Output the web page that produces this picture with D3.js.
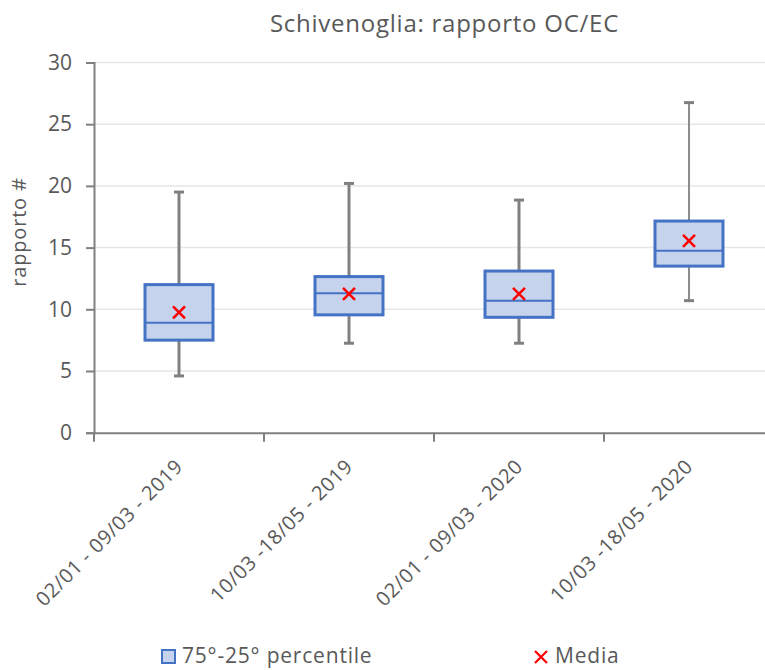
<!DOCTYPE html>
<html><head><meta charset="utf-8">
<script src="https://cdn.jsdelivr.net/npm/d3@7"></script>
<style>body{margin:0;background:#fff}svg{display:block}text{font-family:"Open Sans","Noto Sans",sans-serif;fill:#595959}</style>
</head><body><svg id="c" width="765" height="670"></svg>
<script>
const categories = ["02/01 - 09/03 - 2019","10/03 -18/05 - 2019","02/01 - 09/03 - 2020","10/03 -18/05 - 2020"];
const whiskerLow = [4.6, 7.25, 7.25, 10.7];
const q1 = [7.5, 9.55, 9.35, 13.5];
const median = [8.9, 11.3, 10.7, 14.75];
const q3 = [12.0, 12.65, 13.1, 17.15];
const whiskerHigh = [19.5, 20.2, 18.85, 26.75];
const means = [9.75, 11.25, 11.25, 15.55];
const yTicks = [0,5,10,15,20,25,30];

(function(){
const svg = d3.select("#c");
const left=94, right=774, topY=62.5, bottom=432.7;
const x = d3.scaleBand().domain(categories).range([left,right]).paddingInner(0).paddingOuter(0);
const y = d3.scaleLinear().domain([0,30]).range([bottom,topY]);
const boxW = 68;

// gridlines
svg.append("g").selectAll("line").data(yTicks.filter(d=>d>0)).join("line")
  .attr("x1",left).attr("x2",765).attr("y1",d=>y(d)).attr("y2",d=>y(d))
  .attr("stroke","#e6e6e6").attr("stroke-width",1.5);

// y axis
const ya = svg.append("g").attr("transform",`translate(${left},0)`)
  .call(d3.axisLeft(y).tickValues(yTicks).tickSize(8).tickPadding(14));
ya.select(".domain").attr("stroke","#808080").attr("stroke-width",2);
ya.selectAll(".tick line").attr("stroke","#808080").attr("stroke-width",2);
ya.selectAll(".tick text").style("font-size","21px").style("font-family",'"Open Sans",sans-serif').attr("fill","#595959");

// x axis
const xa = svg.append("g").attr("transform",`translate(0,${bottom})`)
  .call(d3.axisBottom(x).tickSize(0).tickFormat(""));
xa.select(".domain").attr("stroke","#808080").attr("stroke-width",2);
const edges = d3.range(categories.length+1).map(i=>left+i*x.bandwidth());
svg.append("g").selectAll("line").data(edges.slice(0,4)).join("line")
  .attr("x1",d=>d).attr("x2",d=>d).attr("y1",bottom).attr("y2",bottom+9)
  .attr("stroke","#808080").attr("stroke-width",2);

// x labels
svg.append("g").selectAll("text").data(categories).join("text")
  .attr("transform",d=>`translate(${x(d)+x.bandwidth()/2+5},${bottom+35}) rotate(-45)`)
  .attr("text-anchor","end")
  .style("font-size","20px").style("letter-spacing","0.6px").text(d=>d);

// boxes
const g = svg.append("g");
categories.forEach((c,i)=>{
  const cx = x(c)+x.bandwidth()/2;
  const ww = i===3?1.8:3;
  g.append("line").attr("x1",cx).attr("x2",cx).attr("y1",y(whiskerHigh[i])).attr("y2",y(q3[i]))
    .attr("stroke","#808080").attr("stroke-width",ww);
  g.append("line").attr("x1",cx).attr("x2",cx).attr("y1",y(q1[i])).attr("y2",y(whiskerLow[i]))
    .attr("stroke","#808080").attr("stroke-width",ww);
  [whiskerHigh[i],whiskerLow[i]].forEach(v=>{
    g.append("line").attr("x1",cx-5).attr("x2",cx+5).attr("y1",y(v)).attr("y2",y(v))
      .attr("stroke","#808080").attr("stroke-width",3);
  });
  g.append("rect").attr("x",cx-boxW/2).attr("width",boxW)
    .attr("y",y(q3[i])).attr("height",y(q1[i])-y(q3[i]))
    .attr("fill","#c5d3ec").attr("stroke","#4472c4").attr("stroke-width",3);
  g.append("line").attr("x1",cx-boxW/2).attr("x2",cx+boxW/2).attr("y1",y(median[i])).attr("y2",y(median[i]))
    .attr("stroke","#4472c4").attr("stroke-width",2);
  const my=y(means[i]), s=6;
  g.append("path").attr("d",`M${cx-s},${my-s}L${cx+s},${my+s}M${cx-s},${my+s}L${cx+s},${my-s}`)
    .attr("stroke","#ff0000").attr("stroke-width",2.5);
});

// title
svg.append("text").attr("x",444.5).attr("y",32).attr("text-anchor","middle")
  .style("font-size","24px").style("letter-spacing","0.75px").text("Schivenoglia: rapporto OC/EC");

// y label
svg.append("text").attr("transform","translate(26,232) rotate(-90)").attr("text-anchor","middle")
  .style("font-size","20px").style("letter-spacing","0.8px").text("rapporto #");

// legend
const lg = svg.append("g");
lg.append("rect").attr("x",162).attr("y",650).attr("width",13).attr("height",13)
  .attr("fill","#c5d3ec").attr("stroke","#4472c4").attr("stroke-width",2);
lg.append("text").attr("x",182).attr("y",663).style("font-size","21px").style("letter-spacing","0.8px").text("75°-25° percentile");
lg.append("path").attr("d","M535,651L547,663M535,663L547,651").attr("stroke","#ff0000").attr("stroke-width",2.2);
lg.append("text").attr("x",555).attr("y",663).style("font-size","21px").style("letter-spacing","0.8px").text("Media");
})();
</script></body></html>
